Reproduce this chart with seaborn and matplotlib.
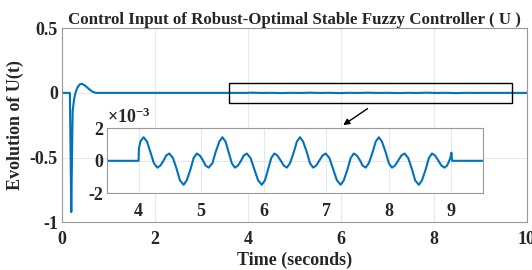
import numpy as np
import pandas as pd
import matplotlib
matplotlib.use("Agg")
import matplotlib.pyplot as plt
import seaborn as sns
from matplotlib.patches import Rectangle

# transient at the start (seconds, U)
t_start = [0.0, 0.17, 0.20, 0.215, 0.23, 0.26, 0.29, 0.33, 0.38, 0.43, 0.50, 0.58, 0.65, 0.73, 3.5]
u_start = [0.0, 0.0, -0.92, -0.50, -0.14, -0.05, 0.0, 0.04, 0.065, 0.07, 0.055, 0.03, 0.01, 0.0, 0.0]

# small oscillation between 4 s and 9 s, in units of 1e-3
t_osc = [4.0, 4.005, 4.03, 4.08, 4.135, 4.19, 4.245, 4.30, 4.35, 4.40, 4.44, 4.49,
         4.55, 4.61, 4.66, 4.72, 4.77, 4.83, 4.88, 4.93, 4.98, 5.03, 5.07, 5.12,
         5.18, 5.23, 5.29, 5.34, 5.39, 5.44, 5.49, 5.54, 5.59, 5.64, 5.68, 5.73,
         5.79, 5.85, 5.91, 5.97, 6.02, 6.07, 6.12, 6.17, 6.22, 6.27, 6.32, 6.37,
         6.42, 6.48, 6.53, 6.58, 6.63, 6.69, 6.74, 6.79, 6.84, 6.89, 6.94, 6.99,
         7.05, 7.11, 7.17, 7.23, 7.28, 7.34, 7.39, 7.44, 7.49, 7.54, 7.58, 7.63,
         7.68, 7.74, 7.79, 7.84, 7.89, 7.95, 8.00, 8.05, 8.10, 8.15, 8.20, 8.25,
         8.31, 8.37, 8.42, 8.48, 8.53, 8.59, 8.64, 8.69, 8.74, 8.79, 8.84, 8.89,
         8.93, 8.96, 8.985, 9.0, 9.012]
u_osc = [0.0, 0.75, 1.20, 1.45, 1.18, 0.52, -0.15, -0.42, -0.29, 0.02, 0.32, 0.45,
         0.17, -0.52, -1.20, -1.48, -1.20, -0.52, 0.17, 0.45, 0.32, 0.02, -0.29, -0.42,
         -0.15, 0.52, 1.18, 1.45, 1.18, 0.52, -0.15, -0.42, -0.29, 0.02, 0.32, 0.45,
         0.17, -0.52, -1.20, -1.48, -1.20, -0.52, 0.17, 0.45, 0.32, 0.02, -0.29, -0.42,
         -0.15, 0.52, 1.18, 1.45, 1.18, 0.52, -0.15, -0.42, -0.29, 0.02, 0.32, 0.45,
         0.17, -0.52, -1.20, -1.48, -1.20, -0.52, 0.17, 0.45, 0.32, 0.02, -0.29, -0.42,
         -0.15, 0.52, 1.18, 1.45, 1.18, 0.52, -0.15, -0.42, -0.29, 0.02, 0.32, 0.45,
         0.17, -0.52, -1.20, -1.48, -1.20, -0.52, 0.17, 0.45, 0.32, 0.02, -0.29, -0.42,
         -0.30, -0.05, 0.20, 0.50, 0.0]

t_end = [9.5, 10.0]
u_end = [0.0, 0.0]

x_ticks = [0, 2, 4, 6, 8, 10]
y_ticks = [-1, -0.5, 0, 0.5]
y_ticklabels = ["-1", "-0.5", "0", "0.5"]
inset_x_ticks = [4, 5, 6, 7, 8, 9]
inset_y_ticks = [-2, 0, 2]

# the whole signal
t_all = t_start + t_osc + t_end
u_all = u_start + [v * 1e-3 for v in u_osc] + u_end
df = pd.DataFrame({"t": t_all, "u": u_all})
df_zoom = pd.DataFrame({"t": [3.5] + t_osc + [9.5], "u": [0.0] + u_osc + [0.0]})

sns.set_style("whitegrid")
plt.rcParams["font.family"] = ["Liberation Serif", "DejaVu Serif"]
plt.rcParams["font.weight"] = "bold"
plt.rcParams["axes.unicode_minus"] = False
plt.rcParams["mathtext.fontset"] = "custom"
plt.rcParams["mathtext.rm"] = "Liberation Serif:bold"
plt.rcParams["mathtext.default"] = "rm"

blue = "#0072BD"
spine_c = "#9a9a9a"
grid_c = "#e8e8e8"
tick_fs = 13

fig = plt.figure(figsize=(5.32, 2.70), dpi=100)
ax = fig.add_axes([0.1165, 0.176, 0.874, 0.72])

sns.lineplot(data=df, x="t", y="u", ax=ax, color=blue, linewidth=1.5,
             estimator=None, sort=False)
ax.set_xlim(0, 10)
ax.set_ylim(-1, 0.5)
ax.set_xticks(x_ticks)
ax.set_yticks(y_ticks)
ax.set_yticklabels(y_ticklabels)
ax.tick_params(axis="both", labelsize=tick_fs, direction="in", length=3, color=spine_c)
ax.tick_params(axis="x", pad=6)
ax.tick_params(axis="y", pad=3)
ax.grid(True, color=grid_c, linewidth=0.8)
for s in ax.spines.values():
    s.set_color(spine_c)
    s.set_linewidth(0.8)
ax.set_xlabel("Time (seconds)", fontsize=13, fontweight="bold", labelpad=3)
ax.set_ylabel("Evolution of U(t)", fontsize=13, fontweight="bold", labelpad=4)
ax.set_title("Control Input of Robust-Optimal Stable Fuzzy Controller ( U )",
             fontsize=12.2, fontweight="bold", pad=3)

ax.add_patch(Rectangle((3.6, -0.075), 6.07, 0.15, fill=False, edgecolor="black",
                       linewidth=1.0, zorder=5))
ax.annotate("", xy=(6.0, -0.26), xytext=(6.62, -0.11),
            arrowprops=dict(arrowstyle="-|>", color="black", lw=1.0, mutation_scale=9))

# inset
axi = fig.add_axes([0.2017, 0.2841, 0.7056, 0.2407])
sns.lineplot(data=df_zoom, x="t", y="u", ax=axi, color=blue, linewidth=1.5,
             estimator=None, sort=False)
axi.set_xlim(3.5, 9.5)
axi.set_ylim(-2, 2)
axi.set_xticks(inset_x_ticks)
axi.set_yticks(inset_y_ticks)
axi.tick_params(axis="both", labelsize=tick_fs, direction="in", length=3, color=spine_c)
axi.tick_params(axis="x", pad=7)
axi.tick_params(axis="y", pad=3)
axi.grid(True, color=grid_c, linewidth=0.8)
for s in axi.spines.values():
    s.set_color(spine_c)
    s.set_linewidth(0.8)
axi.set_xlabel("")
axi.set_ylabel("")
axi.set_facecolor("white")
axi.text(0.0, 1.02, r"$\times\mathregular{10^{-3}}$", transform=axi.transAxes,
         fontsize=13, ha="left", va="bottom")

fig.savefig("out.png", dpi=100)
